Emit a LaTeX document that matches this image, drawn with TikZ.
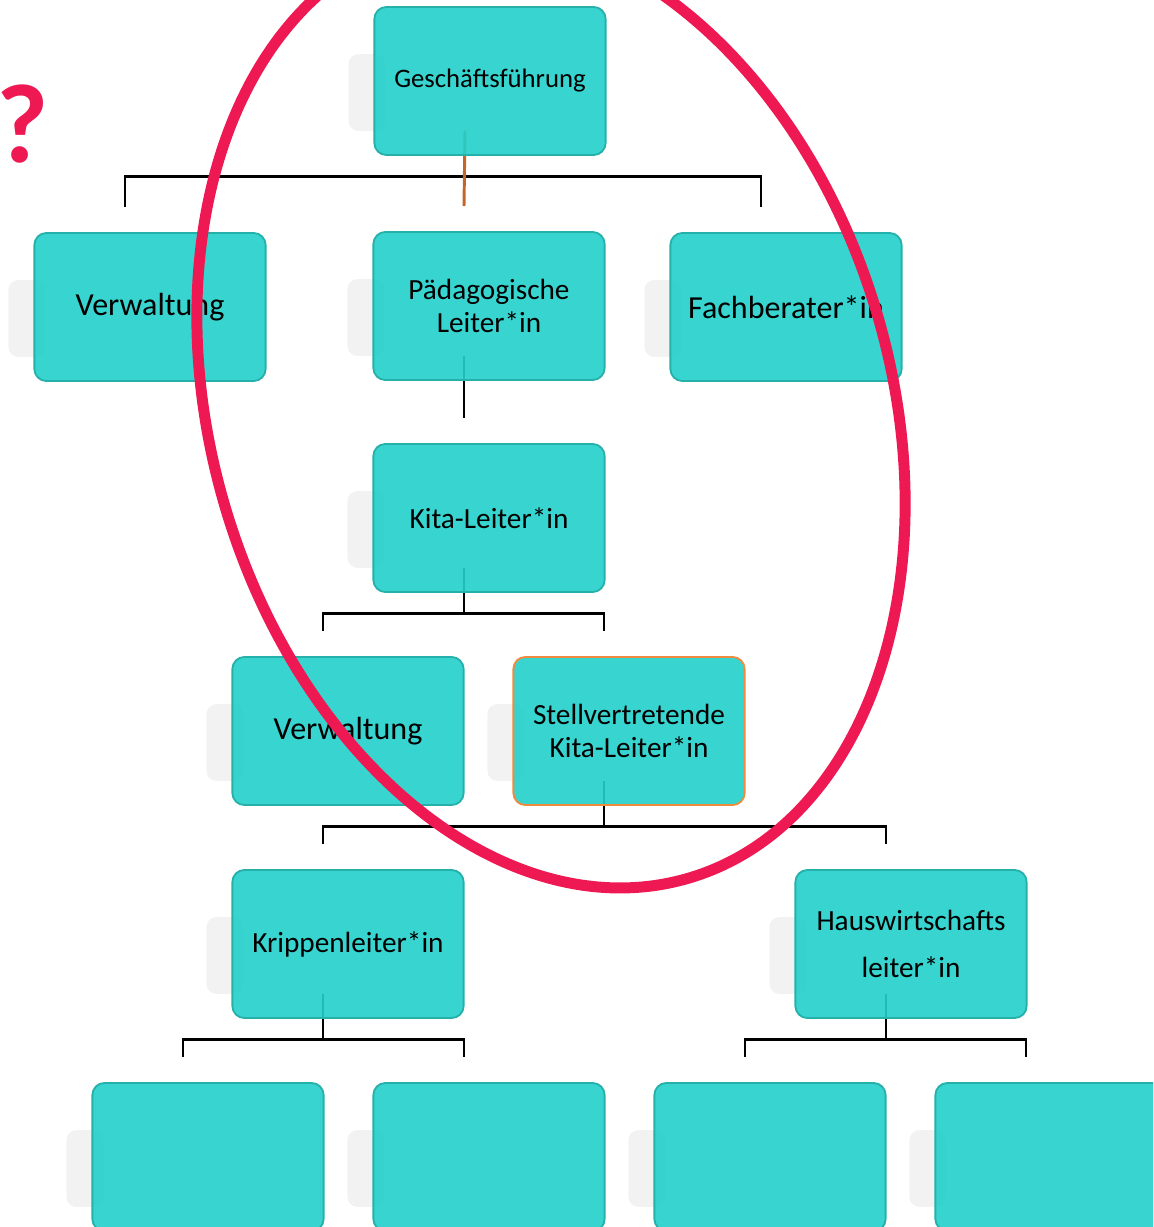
\documentclass[tikz,border=0pt]{standalone}
\usepackage{fontspec}
\setmainfont{Carlito}
\usetikzlibrary{calc,backgrounds}
\definecolor{boxfill}{RGB}{34,208,203}
\definecolor{boxline}{RGB}{38,176,170}
\definecolor{ringred}{RGB}{238,25,82}
\definecolor{stembrown}{RGB}{196,102,40}
\definecolor{frameorange}{RGB}{240,138,60}

\begin{document}
\begin{tikzpicture}[x=0.025cm,y=-0.025cm,
  orgbox/.style={draw=boxline,line width=1.3pt,fill=boxfill,fill opacity=.9,
    text opacity=1,rounded corners=.3cm,minimum width=5.78cm,
    minimum height=3.7cm,inner sep=2pt,align=center,
    font=\fontsize{20.8}{23.5}\selectfont},
  bigtext/.style={font=\fontsize{22.8}{26}\selectfont},
  smalltext/.style={font=\fontsize{19}{22}\selectfont},
  link/.style={line width=2.1pt},
  ghost/.style={fill=black!5,rounded corners=.25cm},
  ring/.style={draw=ringred,line width=7.8pt}]
\path[use as bounding box] (0,0) rectangle (1153,1227);
\clip (0,0) rectangle (1153,1227);
% boxes
\node[orgbox,smalltext] (gf) at (490,81) {Geschäftsführung};
\node[orgbox,bigtext] (verw1) at (150,307) {Verwaltung};
\node[orgbox] (paed) at (489,306) {Pädagogische\\Leiter*in};
\node[orgbox,bigtext] (fach) at (786,307) {Fachberater*in};
\node[orgbox] (kita) at (489,518) {Kita-Leiter*in};
\node[orgbox,bigtext] (verw2) at (348,731) {Verwaltung};
\node[orgbox,draw=frameorange] (stv) at (629,731)
  {Stellvertretende\\Kita-Leiter*in};
\node[orgbox] (krip) at (348,944) {Krippenleiter*in};
\node[orgbox,font=\fontsize{20.8}{33.4}\selectfont] (haus) at (911,944)
  {Hauswirtschafts\\leiter*in};
\node[orgbox] (b1) at (208,1157) {};
\node[orgbox] (b2) at (489,1157) {};
\node[orgbox] (b3) at (770,1157) {};
\node[orgbox] (b4) at (1051,1157) {};
% shadows and connectors behind
\begin{scope}[on background layer]
 \foreach \n in {gf,verw1,paed,fach,kita,verw2,stv,krip,haus,b1,b2,b3,b4}
  \fill[ghost] ($(\n.north west)+(-25,48)$) rectangle ($(\n.south west)+(12,-25)$);
 \foreach \p/\c in {gf/verw1,gf/fach,paed/kita,kita/verw2,kita/stv,
   stv/krip,stv/haus,krip/b1,krip/b2,haus/b3,haus/b4}
  \draw[link] ($(\p.south)+(-25,-25)$) -- ++(0,46) -| ($(\c.north)+(-25,-25)$);
 \draw[link,stembrown] ($(gf.south)+(-25,-25)$) -- ($(paed.north)+(-25,-25)$);
\end{scope}
% marking
\node[text=ringred,inner sep=0pt,font=\fontsize{80}{80}\selectfont\bfseries]
  (quest) at (23,124) {?};
\draw[ring,rotate around={16.4:(551,410)}] (551,410)
  ellipse [x radius=340,y radius=488];
\end{tikzpicture}
\end{document}
